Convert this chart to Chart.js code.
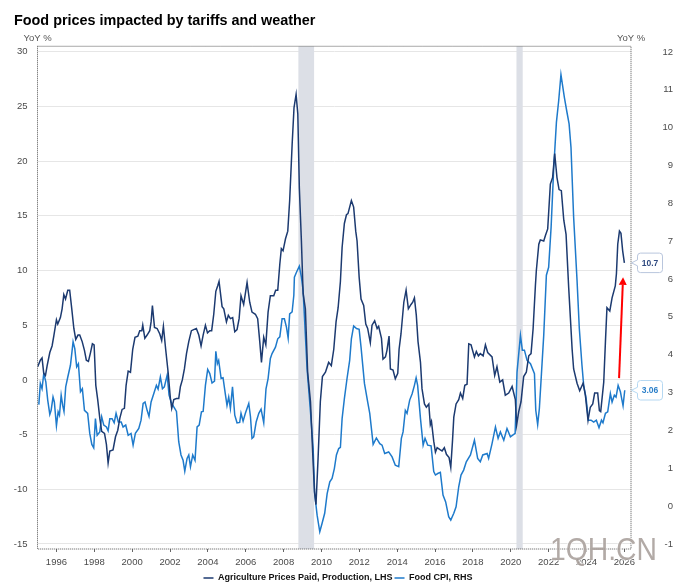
<!DOCTYPE html>
<html><head><meta charset="utf-8">
<style>html,body{margin:0;padding:0;background:#fff}canvas{display:block}</style>
<script src="https://cdn.jsdelivr.net/npm/chart.js@4"></script>
</head><body><canvas id="c" width="673" height="585"></canvas>
<script>
const titleText = "Food prices impacted by tariffs and weather";
const seriesNames = ["Agriculture Prices Paid, Production, LHS", "Food CPI, RHS"];
const axisUnit = "YoY %";
const yearTicks = [1996,1998,2000,2002,2004,2006,2008,2010,2012,2014,2016,2018,2020,2022,2024,2026];
const leftTicks = [-15,-10,-5,0,5,10,15,20,25,30];
const rightTicks = [-1,0,1,2,3,4,5,6,7,8,9,10,11,12];
const agriPaid = [[1995.01,1.2],[1995.15,1.8],[1995.24,2.0],[1995.33,0.6],[1995.42,0.4],[1995.51,1.3],[1995.65,2.5],[1995.77,3.1],[1995.86,4.0],[1996.0,5.5],[1996.07,5.1],[1996.21,5.7],[1996.3,6.5],[1996.39,7.8],[1996.48,7.4],[1996.6,8.2],[1996.7,8.2],[1996.81,6.5],[1996.92,4.7],[1997.02,3.7],[1997.14,4.1],[1997.23,4.1],[1997.36,3.5],[1997.48,2.7],[1997.58,1.8],[1997.69,1.7],[1997.8,2.5],[1997.9,3.3],[1997.99,3.2],[1998.08,-0.5],[1998.18,-1.8],[1998.29,-3.5],[1998.39,-4.7],[1998.54,-4.9],[1998.64,-5.9],[1998.73,-7.6],[1998.82,-6.5],[1998.99,-6.4],[1999.12,-5.2],[1999.24,-4.6],[1999.35,-3.5],[1999.47,-2.7],[1999.59,-2.6],[1999.68,-0.5],[1999.79,0.8],[1999.91,0.7],[2000.03,2.8],[2000.15,3.9],[2000.3,4.0],[2000.4,4.5],[2000.51,4.5],[2000.56,5.0],[2000.67,3.8],[2000.79,4.1],[2000.93,4.5],[2001.0,5.3],[2001.07,6.8],[2001.18,4.8],[2001.32,4.7],[2001.46,4.2],[2001.56,3.6],[2001.65,4.9],[2001.77,2.8],[2001.9,0.7],[2002.02,-1.7],[2002.09,-2.6],[2002.2,-1.8],[2002.34,-1.7],[2002.46,-1.7],[2002.55,-0.6],[2002.65,0],[2002.76,1.0],[2002.87,2.4],[2002.99,3.5],[2003.13,4.5],[2003.25,4.6],[2003.39,4.7],[2003.52,4.1],[2003.64,3.1],[2003.75,4.1],[2003.87,5.0],[2003.98,4.3],[2004.1,4.5],[2004.2,4.5],[2004.31,6.0],[2004.42,8.1],[2004.52,8.6],[2004.59,9.0],[2004.75,6.7],[2004.84,6.5],[2004.98,5.3],[2005.08,5.9],[2005.19,5.6],[2005.31,5.7],[2005.42,4.4],[2005.54,4.6],[2005.65,5.6],[2005.75,7.7],[2005.89,6.9],[2006.07,8.9],[2006.21,7.1],[2006.33,6.2],[2006.51,6.0],[2006.63,5.6],[2006.74,3.5],[2006.83,1.6],[2006.95,3.9],[2007.06,3.2],[2007.18,6.2],[2007.3,7.7],[2007.48,7.7],[2007.58,8.2],[2007.69,8.2],[2007.8,10.6],[2007.88,12.0],[2007.97,11.8],[2008.1,12.9],[2008.22,13.6],[2008.32,16.4],[2008.45,21.5],[2008.55,24.9],[2008.66,26.1],[2008.75,24.3],[2008.83,17.6],[2008.94,12.7],[2009.03,7.9],[2009.15,6.5],[2009.27,0.7],[2009.42,-2.0],[2009.54,-6.8],[2009.63,-10.2],[2009.71,-11.4],[2009.82,-7.2],[2009.94,-2.0],[2010.05,0.3],[2010.21,0.7],[2010.38,1.6],[2010.52,1.3],[2010.65,2.8],[2010.77,5.3],[2010.88,6.6],[2011.0,9.0],[2011.09,12.1],[2011.21,14.3],[2011.32,15.1],[2011.4,15.2],[2011.58,16.4],[2011.7,15.8],[2011.81,13.6],[2011.88,12.7],[2011.99,9.4],[2012.09,7.4],[2012.23,6.8],[2012.34,5.1],[2012.44,4.7],[2012.58,3.4],[2012.67,5.0],[2012.81,5.4],[2012.94,4.7],[2013.02,4.9],[2013.17,3.8],[2013.25,1.9],[2013.38,2.1],[2013.46,2.7],[2013.57,4.0],[2013.64,1.0],[2013.78,0.9],[2013.9,0.1],[2014.03,0.6],[2014.1,2.8],[2014.2,4.2],[2014.35,7.1],[2014.47,8.2],[2014.59,6.5],[2014.73,6.9],[2014.82,7.1],[2014.91,7.5],[2015.01,5.9],[2015.1,3.5],[2015.23,1.6],[2015.31,-0.8],[2015.44,-2.2],[2015.54,-2.5],[2015.67,-2.2],[2015.75,-4.1],[2015.81,-3.8],[2015.93,-5.6],[2016.02,-6.6],[2016.11,-6.2],[2016.28,-6.4],[2016.37,-6.5],[2016.49,-6.2],[2016.6,-6.8],[2016.74,-7.1],[2016.83,-8.0],[2016.92,-5.6],[2016.99,-3.4],[2017.11,-2.2],[2017.25,-1.8],[2017.34,-1.2],[2017.46,-1.7],[2017.57,-0.5],[2017.69,-0.4],[2017.78,3.3],[2017.9,3.2],[2018.08,2.1],[2018.18,2.6],[2018.29,2.2],[2018.39,2.4],[2018.54,2.2],[2018.66,3.2],[2018.78,2.5],[2019.01,2.1],[2019.15,0.4],[2019.27,1.2],[2019.42,-0.2],[2019.57,0],[2019.71,-1.4],[2019.89,-1.2],[2020.07,-0.6],[2020.24,-1.8],[2020.31,-4.1],[2020.42,-2.9],[2020.54,-2.0],[2020.68,0.3],[2020.82,0.7],[2020.95,2.2],[2021.07,2.4],[2021.18,4.7],[2021.3,8.6],[2021.35,10.0],[2021.48,12.4],[2021.56,12.8],[2021.74,12.7],[2021.83,13.2],[2021.95,13.8],[2022.09,17.9],[2022.21,18.5],[2022.32,20.7],[2022.44,18.5],[2022.55,17.4],[2022.67,17.3],[2022.8,14.6],[2022.92,13.3],[2023.06,8.4],[2023.15,5.6],[2023.24,2.8],[2023.32,1.0],[2023.5,-0.3],[2023.64,-1.0],[2023.82,-0.3],[2023.94,-1.4],[2024.08,-3.7],[2024.2,-2.5],[2024.33,-2.2],[2024.43,-1.2],[2024.59,-1.2],[2024.68,-2.8],[2024.75,-2.9],[2024.91,-0.2],[2025.0,3.5],[2025.08,6.6],[2025.23,6.3],[2025.35,7.5],[2025.52,8.6],[2025.58,9.7],[2025.65,12.4],[2025.74,13.6],[2025.82,13.4],[2025.91,11.8],[2026.0,10.7]];
const foodCpi = [[1995.07,2.68],[1995.15,3.24],[1995.24,3.1],[1995.33,3.5],[1995.44,3.28],[1995.54,2.8],[1995.65,2.42],[1995.72,2.53],[1995.82,2.88],[1995.89,2.75],[1996.0,2.12],[1996.09,2.49],[1996.16,2.4],[1996.25,2.93],[1996.33,2.66],[1996.4,2.5],[1996.49,3.15],[1996.6,3.41],[1996.74,3.72],[1996.88,4.34],[1996.97,4.16],[1997.07,3.68],[1997.16,3.76],[1997.27,3.02],[1997.37,3.1],[1997.48,2.53],[1997.65,2.45],[1997.76,1.92],[1997.87,1.63],[1997.97,1.54],[1998.06,2.31],[1998.15,1.87],[1998.29,1.96],[1998.39,2.36],[1998.5,2.14],[1998.64,2.09],[1998.73,1.99],[1998.82,2.31],[1998.94,2.31],[1999.05,2.2],[1999.15,2.45],[1999.27,2.22],[1999.42,2.22],[1999.52,2.09],[1999.66,2.14],[1999.79,1.87],[1999.94,1.92],[2000.05,1.61],[2000.17,1.92],[2000.35,2.05],[2000.47,2.27],[2000.58,2.71],[2000.68,2.75],[2000.79,2.53],[2000.89,2.37],[2001.0,2.75],[2001.14,2.97],[2001.28,3.19],[2001.37,3.09],[2001.49,3.41],[2001.6,3.1],[2001.7,3.15],[2001.85,3.46],[2001.95,2.93],[2002.06,2.75],[2002.2,2.62],[2002.34,2.5],[2002.46,1.7],[2002.58,1.35],[2002.69,1.21],[2002.78,0.92],[2002.9,1.26],[2002.99,1.35],[2003.08,1.04],[2003.2,1.35],[2003.32,1.21],[2003.43,2.09],[2003.54,2.14],[2003.66,2.49],[2003.75,2.5],[2003.87,3.19],[2003.99,3.61],[2004.1,3.5],[2004.22,3.25],[2004.35,3.3],[2004.42,4.09],[2004.5,3.76],[2004.57,3.85],[2004.7,3.37],[2004.8,3.39],[2004.93,2.93],[2005.01,2.66],[2005.1,2.88],[2005.19,2.58],[2005.3,3.15],[2005.42,2.4],[2005.54,2.2],[2005.68,2.21],[2005.75,2.45],[2005.86,2.24],[2005.98,2.45],[2006.16,2.71],[2006.25,2.36],[2006.33,1.79],[2006.42,1.83],[2006.55,2.22],[2006.69,2.45],[2006.81,2.56],[2006.95,2.2],[2007.07,3.1],[2007.18,3.37],[2007.3,3.9],[2007.39,4.03],[2007.57,4.2],[2007.69,4.42],[2007.8,4.47],[2007.92,4.95],[2008.04,4.95],[2008.15,4.73],[2008.24,4.44],[2008.32,5.08],[2008.45,5.13],[2008.54,5.57],[2008.57,6.05],[2008.68,6.18],[2008.83,6.34],[2008.94,6.05],[2009.03,5.7],[2009.24,3.63],[2009.42,2.49],[2009.56,1.52],[2009.64,0.33],[2009.77,-0.24],[2009.91,-0.68],[2010.03,-0.46],[2010.17,-0.19],[2010.3,0.33],[2010.44,0.64],[2010.56,0.73],[2010.68,0.99],[2010.79,1.35],[2010.91,1.52],[2011.0,1.55],[2011.09,2.31],[2011.21,2.84],[2011.35,3.37],[2011.49,3.85],[2011.58,4.42],[2011.7,4.76],[2011.85,4.69],[2011.99,4.67],[2012.09,4.2],[2012.27,3.24],[2012.44,2.75],[2012.55,2.45],[2012.73,1.63],[2012.9,1.8],[2013.08,1.65],[2013.2,1.61],[2013.34,1.39],[2013.55,1.43],[2013.73,1.3],[2013.9,1.08],[2014.08,1.04],[2014.22,1.79],[2014.31,1.96],[2014.43,2.53],[2014.52,2.45],[2014.66,2.8],[2014.79,2.97],[2014.91,3.19],[2015.0,3.39],[2015.08,3.19],[2015.23,2.31],[2015.37,1.61],[2015.47,1.79],[2015.61,1.61],[2015.79,1.59],[2015.93,0.91],[2016.02,0.82],[2016.14,0.86],[2016.28,0.89],[2016.42,0.29],[2016.56,0.11],[2016.72,-0.28],[2016.83,-0.37],[2016.99,-0.19],[2017.11,-0.02],[2017.25,0.51],[2017.37,0.82],[2017.51,0.95],[2017.65,1.17],[2017.87,1.35],[2018.08,1.74],[2018.25,1.26],[2018.39,1.17],[2018.52,1.35],[2018.75,1.39],[2018.83,1.26],[2019.01,1.65],[2019.19,2.09],[2019.33,1.79],[2019.45,1.96],[2019.63,1.74],[2019.8,2.05],[2019.98,1.83],[2020.23,1.92],[2020.33,3.54],[2020.51,4.51],[2020.61,4.12],[2020.72,4.12],[2020.86,3.85],[2021.04,3.76],[2021.25,3.5],[2021.32,2.53],[2021.42,2.15],[2021.51,2.58],[2021.62,3.5],[2021.74,4.51],[2021.88,6.1],[2022.0,6.31],[2022.13,7.37],[2022.27,8.95],[2022.41,10.14],[2022.53,10.71],[2022.65,11.4],[2022.83,10.8],[2022.97,10.4],[2023.08,10.1],[2023.18,9.48],[2023.32,7.63],[2023.5,5.96],[2023.62,4.69],[2023.76,3.72],[2023.85,3.19],[2023.98,2.84],[2024.1,2.27],[2024.24,2.27],[2024.38,2.22],[2024.52,2.27],[2024.66,2.07],[2024.79,2.27],[2024.87,2.2],[2025.0,2.45],[2025.12,2.49],[2025.26,2.97],[2025.35,2.75],[2025.47,2.93],[2025.56,2.88],[2025.67,3.19],[2025.79,3.02],[2025.93,2.65],[2026.02,3.06]];
const recessionBands = [[2008.78,2009.61],[2020.3,2020.63]];
const arrowFrom = [2025.72,0.16];
const arrowTo = [2025.93,9.38];
const lastAgri = "10.7";
const lastFood = "3.06";
const watermark = "1QH.CN";

const C_DARK = "#1c3a70", C_BLUE = "#1e7acb", C_TXT = "#4a4a4a";
const FONT = '"Liberation Sans", Arial, sans-serif';

function useTicks(list){ return s => { s.ticks = list.map(v => ({value:v})); }; }

function callout(ctx, tipX, tipY, text, stroke, fg){
  const x = tipX + 6, w = 25, h = 19.5, y = tipY - h/2, r = 3;
  ctx.save();
  ctx.beginPath();
  ctx.moveTo(tipX, tipY);
  ctx.lineTo(x, tipY - 3);
  ctx.lineTo(x, y + r);
  ctx.arcTo(x, y, x + r, y, r);
  ctx.lineTo(x + w - r, y);
  ctx.arcTo(x + w, y, x + w, y + r, r);
  ctx.lineTo(x + w, y + h - r);
  ctx.arcTo(x + w, y + h, x + w - r, y + h, r);
  ctx.lineTo(x + r, y + h);
  ctx.arcTo(x, y + h, x, y + h - r, r);
  ctx.lineTo(x, tipY + 3);
  ctx.closePath();
  ctx.fillStyle = "#fff"; ctx.fill();
  ctx.strokeStyle = stroke; ctx.lineWidth = 1; ctx.stroke();
  ctx.fillStyle = fg; ctx.font = "bold 8.5px " + FONT;
  ctx.textAlign = "center"; ctx.textBaseline = "middle";
  ctx.fillText(text, x + w/2, tipY + 0.5);
  ctx.restore();
}

const overlay = {
  id: "overlay",
  afterLayout(chart){
    const lg = chart.legend;
    lg.left -= 5.5; lg.right -= 5.5; lg.top += 2.5; lg.bottom += 2.5;
  },
  beforeDatasetsDraw(chart){
    const {ctx, chartArea:a, scales:{x}} = chart;
    ctx.save();
    ctx.fillStyle = "#dcdfe6";
    recessionBands.forEach(([s,e]) => {
      const l = x.getPixelForValue(s), r = x.getPixelForValue(e);
      ctx.fillRect(l, a.top, r - l, a.bottom - a.top);
    });
    ctx.restore();
  },
  afterDraw(chart){
    const {ctx, chartArea:a, scales:{x,y,y2}} = chart;
    ctx.save();
    ctx.strokeStyle = "#555"; ctx.lineWidth = 1; ctx.setLineDash([1,1]);
    ctx.strokeRect(a.left, a.top, a.right - a.left, a.bottom - a.top);
    ctx.setLineDash([]);
    ctx.fillStyle = "#555"; ctx.font = "9.5px " + FONT;
    ctx.textAlign = "center"; ctx.textBaseline = "middle";
    ctx.fillText(axisUnit, a.left, 38);
    ctx.fillText(axisUnit, a.right, 38);

    const x0 = x.getPixelForValue(arrowFrom[0]), y0 = y.getPixelForValue(arrowFrom[1]);
    const x1 = x.getPixelForValue(arrowTo[0]), y1 = y.getPixelForValue(arrowTo[1]);
    const ang = Math.atan2(y1 - y0, x1 - x0), hl = 7.5, hw = 4;
    const bx = x1 - hl*Math.cos(ang), by = y1 - hl*Math.sin(ang);
    ctx.strokeStyle = "#ff0000"; ctx.fillStyle = "#ff0000"; ctx.lineWidth = 2;
    ctx.beginPath(); ctx.moveTo(x0, y0); ctx.lineTo(bx, by); ctx.stroke();
    ctx.beginPath(); ctx.moveTo(x1, y1);
    ctx.lineTo(bx - hw*Math.sin(ang), by + hw*Math.cos(ang));
    ctx.lineTo(bx + hw*Math.sin(ang), by - hw*Math.cos(ang));
    ctx.closePath(); ctx.fill();
    ctx.restore();

    callout(ctx, a.right + 0.5, y.getPixelForValue(parseFloat(lastAgri)), lastAgri, "#b9c6dd", "#2f4a80");
    callout(ctx, a.right + 0.5, y2.getPixelForValue(parseFloat(lastFood)), lastFood, "#b5d8f2", "#2a7fc9");

    ctx.save();
    ctx.translate(550, 560);
    ctx.scale(1, 1.13);
    ctx.font = "28.3px " + FONT;
    ctx.textAlign = "left"; ctx.textBaseline = "alphabetic";
    ctx.lineWidth = 1.5; ctx.strokeStyle = "rgba(255,255,255,.7)";
    ctx.strokeText(watermark, 0, 0);
    ctx.fillStyle = "rgba(165,155,150,.85)";
    ctx.fillText(watermark, 0, 0);
    ctx.restore();
  }
};

new Chart(document.getElementById("c"), {
  type: "line",
  data: { datasets: [
    { label: seriesNames[0], data: agriPaid.map(p => ({x:p[0], y:p[1]})), yAxisID:"y", borderColor:C_DARK, backgroundColor:C_DARK, borderWidth:1.5, pointRadius:0, tension:0 },
    { label: seriesNames[1], data: foodCpi.map(p => ({x:p[0], y:p[1]})), yAxisID:"y2", borderColor:C_BLUE, backgroundColor:C_BLUE, borderWidth:1.5, pointRadius:0, tension:0 }
  ]},
  options: {
    responsive:false, animation:false, devicePixelRatio:1,
    layout:{ padding:{left:14, right:0, top:12, bottom:-5} },
    plugins:{
      title:{ display:true, text:titleText, align:"start", color:"#000", font:{family:FONT, size:14.4, weight:"bold"}, padding:{top:0,bottom:17} },
      legend:{ position:"bottom", labels:{ boxWidth:10, boxHeight:1.5, padding:2, color:"#111", font:{family:FONT, size:9, weight:"bold"},
        generateLabels:c => Chart.defaults.plugins.legend.labels.generateLabels(c).map(i => ({...i, lineWidth:0})) } },
      tooltip:{enabled:false}
    },
    scales:{
      x:{ type:"linear", min:1995, max:2026.35,
        ticks:{ autoSkip:false, maxRotation:0, padding:5, color:C_TXT, font:{family:FONT,size:9.5}, callback:v => String(v) },
        afterBuildTicks:useTicks(yearTicks),
        afterFit:s => { s.height = 20; },
        grid:{ drawOnChartArea:false, drawTicks:true, tickLength:3, tickColor:"#666" },
        border:{display:false} },
      y:{ position:"left", min:-15.46, max:30.5,
        ticks:{ padding:10, color:C_TXT, font:{family:FONT,size:9.5}, callback:v => String(v) },
        afterBuildTicks:useTicks(leftTicks),
        afterFit:s => { s.width = 23.5; },
        grid:{ color:"#e6e6e6", lineWidth:1, drawTicks:false },
        border:{display:false} },
      y2:{ position:"right", min:-1.135, max:12.15,
        ticks:{ padding:11, crossAlign:"far", color:C_TXT, font:{family:FONT,size:9.5}, callback:v => String(v) },
        afterBuildTicks:useTicks(rightTicks),
        afterFit:s => { s.width = 42; },
        grid:{ display:false },
        border:{display:false} }
    }
  },
  plugins:[overlay]
});
</script></body></html>
